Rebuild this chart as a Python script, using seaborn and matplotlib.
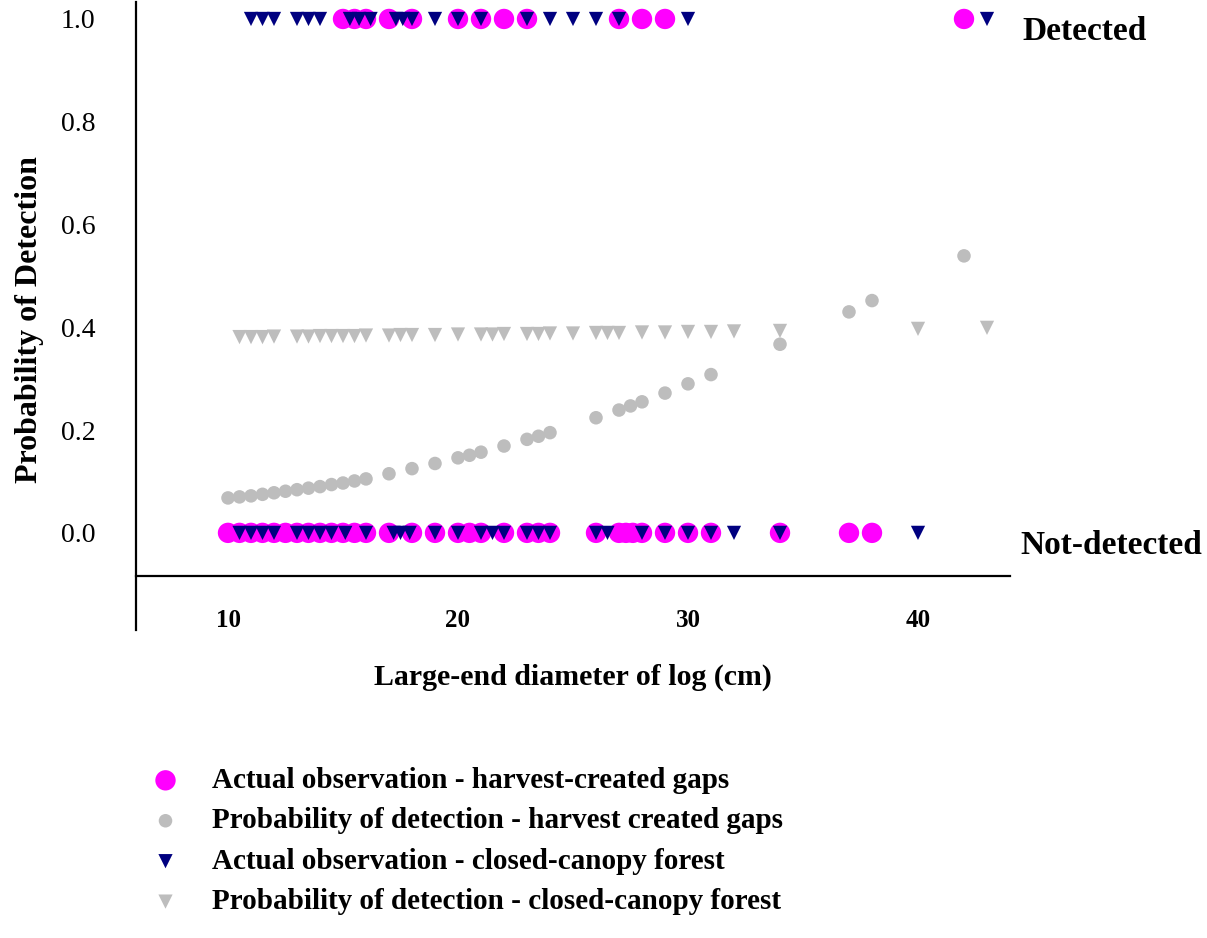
import numpy as np
import pandas as pd
import matplotlib
matplotlib.use("Agg")
import matplotlib.pyplot as plt
import seaborn as sns

# ---- data ----
harvest_detected_x = [15, 15.5, 16, 17, 18, 20, 21, 22, 23, 27, 28, 29, 42]
harvest_not_detected_x = [10, 10.5, 11, 11.5, 12, 12.5, 13, 13.5, 14, 14.5, 15, 15.5, 16,
                          17, 18, 19, 20, 20.5, 21, 22, 23, 23.5, 24, 26, 27, 27.3, 27.6,
                          28, 29, 30, 31, 34, 37, 38]
closed_detected_x = [11, 11.5, 12, 13, 13.5, 14, 15.3, 15.7, 16.2, 17.3, 17.6, 18, 19,
                     20, 21, 23, 24, 25, 26, 27, 30, 43]
closed_not_detected_x = [10.5, 11, 11.5, 12, 13, 13.5, 14, 14.5, 15.1, 16, 17.2, 17.5,
                         17.9, 19, 20, 21, 21.5, 22, 23, 23.5, 24, 26, 26.5, 28, 29, 30,
                         31, 32, 34, 40]

prob_harvest_x = [10, 10.5, 11, 11.5, 12, 12.5, 13, 13.5, 14, 14.5, 15, 15.5, 16, 17, 18,
                  19, 20, 20.5, 21, 22, 23, 23.5, 24, 26, 27, 27.5, 28, 29, 30, 31, 34,
                  37, 38, 42]
prob_harvest_y = [0.068, 0.070, 0.072, 0.075, 0.078, 0.081, 0.084, 0.087, 0.090, 0.094,
                  0.097, 0.101, 0.105, 0.115, 0.125, 0.135, 0.146, 0.151, 0.157, 0.169,
                  0.182, 0.188, 0.195, 0.224, 0.239, 0.247, 0.255, 0.272, 0.290, 0.308,
                  0.367, 0.430, 0.452, 0.539]

prob_closed_x = [10.5, 11, 11.5, 12, 13, 13.5, 14, 14.5, 15, 15.5, 16, 17, 17.5, 18, 19,
                 20, 21, 21.5, 22, 23, 23.5, 24, 25, 26, 26.5, 27, 28, 29, 30, 31, 32, 34,
                 40, 43]
prob_closed_y = [0.381, 0.381, 0.381, 0.382, 0.382, 0.382, 0.383, 0.383, 0.383, 0.383,
                 0.384, 0.384, 0.385, 0.385, 0.385, 0.386, 0.386, 0.386, 0.387, 0.387,
                 0.387, 0.388, 0.388, 0.389, 0.389, 0.389, 0.390, 0.390, 0.391, 0.391,
                 0.392, 0.393, 0.397, 0.399]

labels = ["Actual observation - harvest-created gaps",
          "Probability of detection - harvest created gaps",
          "Actual observation - closed-canopy forest",
          "Probability of detection - closed-canopy forest"]
y_ticks = [0.0, 0.2, 0.4, 0.6, 0.8, 1.0]
x_ticks = [10, 20, 30, 40]

MAGENTA = "#FF00FF"
NAVY = "#000080"
GRAY = "#BDBDBD"

sns.set_style("white")
plt.rcParams["font.family"] = ["Liberation Serif", "DejaVu Serif"]
plt.rcParams["text.color"] = "black"
plt.rcParams["axes.labelcolor"] = "black"
plt.rcParams["xtick.color"] = "black"
plt.rcParams["ytick.color"] = "black"

fig = plt.figure(figsize=(12.07, 9.38), dpi=100)
ax = fig.add_axes([136/1207, 1 - 630/938, (1010 - 136)/1207, (630 - 2)/938])

harvest_obs = pd.DataFrame({
    "x": harvest_detected_x + harvest_not_detected_x,
    "y": [1.0] * len(harvest_detected_x) + [0.0] * len(harvest_not_detected_x)})
closed_obs = pd.DataFrame({
    "x": closed_detected_x + closed_not_detected_x,
    "y": [1.0] * len(closed_detected_x) + [0.0] * len(closed_not_detected_x)})
prob_h = pd.DataFrame({"x": prob_harvest_x, "y": prob_harvest_y})
prob_c = pd.DataFrame({"x": prob_closed_x, "y": prob_closed_y})

sns.scatterplot(data=prob_h, x="x", y="y", color=GRAY, marker="o", s=95,
                edgecolor="none", label=labels[1], ax=ax, zorder=2)
sns.scatterplot(data=prob_c, x="x", y="y", color=GRAY, marker="v", s=105,
                edgecolor="none", label=labels[3], ax=ax, zorder=2)
sns.scatterplot(data=harvest_obs, x="x", y="y", color=MAGENTA, marker="o", s=215,
                edgecolor="none", label=labels[0], ax=ax, zorder=3)
sns.scatterplot(data=closed_obs, x="x", y="y", color=NAVY, marker="v", s=105,
                edgecolor="none", label=labels[2], ax=ax, zorder=4)

ax.set_xlim(6, 44)
ax.set_ylim(-0.189, 1.033)

for s in ["top", "right"]:
    ax.spines[s].set_visible(False)
ax.spines["bottom"].set_position(("data", -0.084))
ax.spines["left"].set_color("black")
ax.spines["bottom"].set_color("black")
ax.spines["left"].set_linewidth(1.6)
ax.spines["bottom"].set_linewidth(1.6)

ax.set_yticks(y_ticks)
ax.set_yticklabels([f"{v:.1f}" for v in y_ticks], fontsize=20)
ax.set_xticks(x_ticks)
ax.set_xticklabels([str(v) for v in x_ticks], fontsize=18, fontweight="bold")
ax.tick_params(axis="x", direction="out", length=10, width=1.6, pad=14, colors="black")
ax.tick_params(axis="y", direction="out", length=0, width=1.2, pad=29, colors="black")

ax.set_xlabel("")
ax.set_ylabel("")
fig.text(573/1207, 1 - 677/938, "Large-end diameter of log (cm)", ha="center", va="center",
         fontsize=21.5, fontweight="bold")
fig.text(30/1207, 1 - 320/938, "Probability of Detection", ha="center", va="center",
         rotation=90, fontsize=23, fontweight="bold")
fig.text(1022/1207, 1 - 32/938, "Detected", ha="left", va="center",
         fontsize=24, fontweight="bold")
fig.text(1020/1207, 1 - 546/938, "Not-detected", ha="left", va="center",
         fontsize=24, fontweight="bold")

handles, labs = ax.get_legend_handles_labels()
order = [labs.index(l) for l in labels]
if ax.get_legend() is not None:
    ax.get_legend().remove()
leg = fig.legend([handles[i] for i in order], [labs[i] for i in order],
                 loc="upper left", bbox_to_anchor=(148/1207, 1 - 767/938),
                 frameon=False, prop={"size": 21, "weight": "bold"},
                 labelspacing=0.46, handletextpad=1.0, handlelength=1.2,
                 borderaxespad=0, borderpad=0)

fig.savefig("out.png", dpi=100)
